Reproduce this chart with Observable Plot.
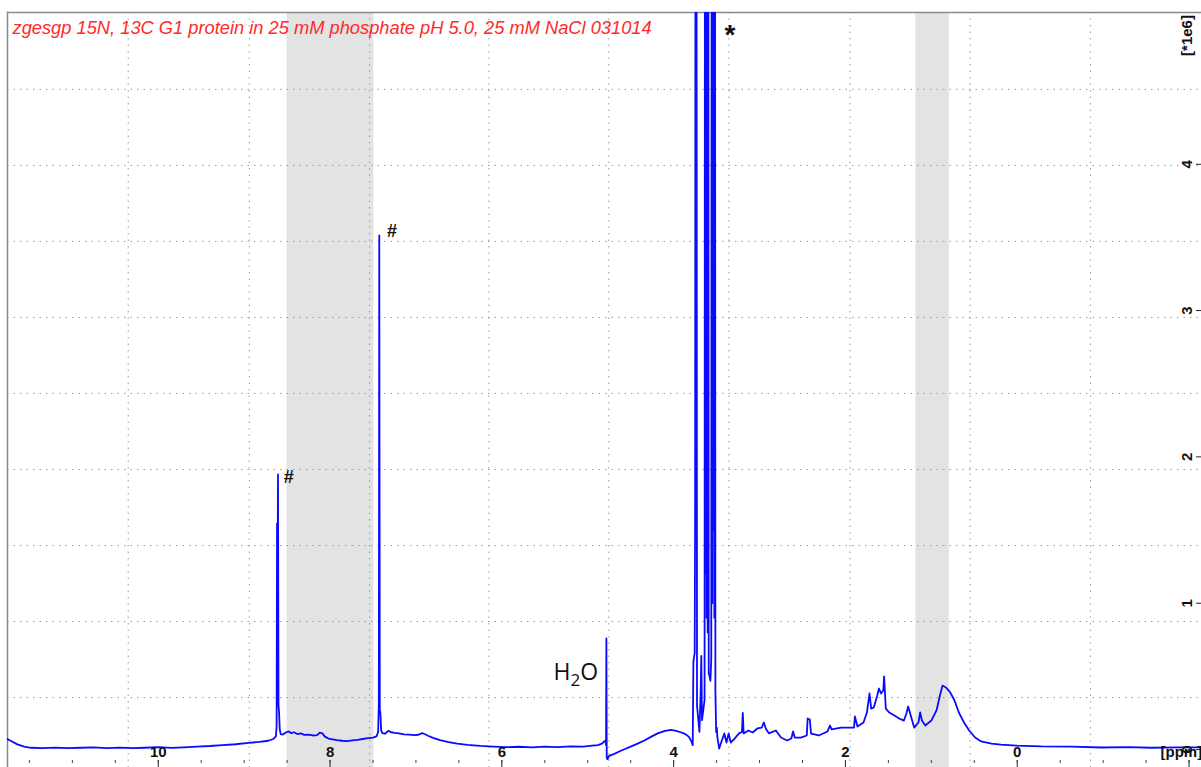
<!DOCTYPE html>
<html><head><meta charset="utf-8">
<script src="https://cdn.jsdelivr.net/npm/d3@7"></script>
<script src="https://cdn.jsdelivr.net/npm/@observablehq/plot@0.6"></script>
<style>html,body{margin:0;padding:0;background:#fff;} #chart svg{display:block}</style>
</head><body><div id="chart"></div>
<script>
const title = "zgesgp 15N, 13C G1 protein in 25 mM phosphate pH 5.0, 25 mM NaCl 031014";

// spectrum: chemical shift (ppm) and intensity (x 1e6)
const ppm = [
 11.80,11.72,11.64,11.56,11.48,11.35,11.20,11.05,10.90,10.75,10.60,10.45,10.30,10.15,10.00,9.85,9.70,9.55,9.40,9.25,9.10,8.95,8.82,8.72,8.66,8.63,
 8.622,8.617,8.612,8.606,8.600,8.594,8.586,8.575,8.55,8.51,8.48,8.45,8.42,8.38,8.34,8.30,8.25,8.20,8.15,8.12,8.09,8.06,8.02,7.97,7.92,7.86,7.80,7.74,7.68,7.62,7.56,7.50,7.46,
 7.44,7.432,7.427,7.421,7.414,7.405,7.39,7.36,7.32,7.29,7.25,7.20,7.14,7.08,7.02,6.97,6.93,6.90,6.86,6.80,6.72,6.62,6.52,6.40,6.25,6.10,5.95,5.80,5.65,5.50,5.35,5.20,5.05,4.95,4.88,
 4.83,4.81,4.795,4.787,4.783,4.779,4.77,4.755,4.73,4.69,4.64,4.58,4.50,4.42,4.34,4.26,4.18,4.10,4.03,3.97,3.92,3.88,3.85,3.82,3.79,3.778,
 3.77,3.755,3.75,3.744,3.736,3.728,3.712,3.70,3.685,3.678,3.670,3.657,3.640,3.634,3.628,3.622,3.616,3.610,3.604,3.598,3.592,3.582,3.572,
 3.562,3.556,3.550,3.544,3.538,3.532,3.526,3.520,3.514,3.505,3.498,3.490,3.470,3.440,3.410,3.385,3.360,3.335,3.29,3.24,3.205,3.195,3.185,
 3.13,3.08,3.025,2.975,2.950,2.925,2.89,2.81,2.75,2.68,2.63,2.61,2.59,2.52,2.45,2.44,2.415,2.40,2.31,2.21,2.18,2.16,2.05,1.96,1.90,1.89,1.86,
 1.79,1.75,1.72,1.70,1.67,1.63,1.61,1.585,1.56,1.55,1.53,1.49,1.43,1.375,1.32,1.29,1.27,1.25,1.20,1.15,1.13,1.11,1.07,1.00,0.94,0.90,0.87,
 0.83,0.78,0.73,0.68,0.62,0.56,0.49,0.42,0.30,0.19,0.01,-0.28,-0.63,-0.98,-1.30,-1.56,-1.90,-2.30
];
const intensity = [
 0.085,0.060,0.035,0.020,0.012,0.010,0.013,0.009,0.012,0.015,0.010,0.013,0.009,0.012,0.016,0.011,0.015,0.020,0.024,0.030,0.036,0.045,0.052,0.060,0.072,0.090,
 0.16,1.545,0.95,1.88,0.30,0.26,0.14,0.105,0.102,0.118,0.124,0.112,0.118,0.106,0.110,0.100,0.102,0.096,0.098,0.115,0.110,0.088,0.075,0.070,0.064,0.060,0.058,0.062,0.066,0.072,0.078,0.082,0.090,
 0.12,0.32,3.513,0.27,0.25,0.13,0.112,0.108,0.128,0.118,0.114,0.110,0.104,0.102,0.098,0.101,0.112,0.106,0.094,0.080,0.064,0.050,0.040,0.032,0.025,0.020,0.016,0.019,0.015,0.020,0.017,0.022,0.020,0.026,0.030,
 0.042,0.055,0.060,0.030,0.759,-0.055,-0.068,-0.045,-0.038,-0.030,-0.015,0.000,0.020,0.040,0.062,0.088,0.112,0.128,0.134,0.128,0.118,0.110,0.100,0.085,0.050,0.030,
 0.60,0.66,1.60,8,8,0.30,0.20,0.12,0.40,0.64,0.20,0.26,0.34,8,1.2,8,0.9,8,0.8,8,0.52,0.50,0.47,
 0.62,8,1.0,8,1.5,8,0.9,8,0.40,0.12,0.15,0.08,0.007,0.060,0.110,0.048,0.110,0.048,0.075,0.110,0.120,0.250,0.110,
 0.130,0.116,0.144,0.150,0.185,0.140,0.110,0.130,0.082,0.062,0.075,0.123,0.082,0.082,0.096,0.212,0.205,0.109,0.096,0.123,0.164,0.137,0.150,0.150,0.150,0.226,0.157,
 0.185,0.253,0.383,0.280,0.287,0.369,0.417,0.383,0.403,0.499,0.280,0.253,0.232,0.212,0.198,0.246,0.294,0.253,0.150,0.185,0.253,0.198,0.164,0.198,0.267,0.369,0.437,
 0.424,0.390,0.335,0.253,0.185,0.130,0.082,0.055,0.041,0.034,0.027,0.021,0.020,0.014,0.016,0.012,0.015,0.014
];

const xMajorTicks = [10, 8, 6, 4, 2, 0, -2];
const xTickLabels = [10, 8, 6, 4, 2, 0];
const xMinorTicks = [11.5, 11, 10.5, 10, 9.5, 9, 8.5, 8, 7.5, 7, 6.5, 6, 5.5, 5, 4.5, 4, 3.5, 3, 2.5, 2, 1.5, 1, 0.5, 0, -0.5, -1, -1.5, -2];
const yTicks = [0, 1, 2, 3, 4];
const xGrid = [10.35, 8.94, 7.54, 6.15, 4.755, 3.357, 1.946, 0.548, -0.851];
const yGrid = [0.355, 0.875, 1.394, 1.914, 2.434, 2.953, 3.473, 3.992, 4.512];
const bandFrom = [8.50, 1.18];
const bandTo = [7.49, 0.79];
const hashText = ["#", "#"];
const hashPpm = [8.48, 7.28];
const hashInt = [1.86, 3.54];
const starText = ["*"];
const starPpm = [3.345];
const starInt = [4.925];
const waterText = ["H2O"];
const waterPpm = [5.14];
const waterInt = [0.526];

const spectrum = ppm.map((p, i) => ({p, v: intensity[i]}));
const bands = bandFrom.map((f, i) => ({from: f, to: bandTo[i]}));

// render H2O with a lowered "2"
function subscriptRender(index, scales, values, dims, context, next) {
  const g = next(index, scales, values, dims, context);
  d3.select(g).selectAll("text").each(function() {
    const t = d3.select(this);
    const s = t.text();
    t.text(null);
    t.append("tspan").text(s[0]);
    t.append("tspan").attr("dy", 6).attr("font-size", 17).text(s[1]);
    t.append("tspan").attr("dy", -6).text(s.slice(2));
  });
  return g;
}

const chart = Plot.plot({
  width: 1201, height: 767,
  marginLeft: 7, marginRight: 0, marginTop: 12, marginBottom: 7,
  x: {domain: [11.755, -2.145], axis: null, label: null},
  y: {domain: [-0.075, 5.037], axis: null, label: null},
  style: {fontFamily: "'Liberation Sans', Arial, sans-serif", background: "#fff", overflow: "hidden"},
  marks: [
    Plot.rect(bands, {x1: "from", x2: "to", fill: "#e3e3e3", insetBottom: -7}),
    Plot.gridX(xGrid, {stroke: "#9a9a9a", strokeOpacity: 1, strokeDasharray: "1.5,5", insetBottom: -7}),
    Plot.gridY(yGrid, {stroke: "#9a9a9a", strokeOpacity: 1, strokeDasharray: "1.5,5"}),
    Plot.frame({anchor: "top", stroke: "#8a8a8a", strokeWidth: 1.5}),
    Plot.frame({anchor: "left", stroke: "#8a8a8a", strokeWidth: 1.5, insetBottom: -7}),
    Plot.line(spectrum, {x: "p", y: "v", stroke: "#0a0aff", strokeWidth: 1.8, clip: true}),
    Plot.axisX(xMajorTicks, {anchor: "bottom", tickSize: 7, tickFormat: () => "", label: null, stroke: "#222"}),
    Plot.axisX(xMinorTicks, {anchor: "bottom", tickSize: 3, tickFormat: () => "", label: null, stroke: "#444"}),
    Plot.axisX(xTickLabels, {anchor: "bottom", tickSize: 0, tickPadding: 0, dy: -8, lineAnchor: "middle", label: null,
      tickFormat: d => String(d), fontSize: 15, fontWeight: "bold", fill: "#111"}),
    Plot.axisY(yTicks, {anchor: "right", tickSize: -6, tickPadding: -8, tickRotate: -90, textAnchor: "middle", lineAnchor: "middle",
      label: null, tickFormat: d => String(d), fontSize: 15, fontWeight: "bold", fill: "#111", stroke: "#222"}),
    Plot.text(["[*1e6]"], {frameAnchor: "top-right", dx: -14, dy: 23, rotate: -90, textAnchor: "middle", lineAnchor: "middle",
      text: d => d, fontSize: 15, fontWeight: "bold", fill: "#111"}),
    Plot.text(["[ppm]"], {frameAnchor: "bottom-right", dx: -41, dy: -8, textAnchor: "start", lineAnchor: "middle",
      text: d => d, fontSize: 15, fontWeight: "bold", fill: "#111"}),
    Plot.text([title], {frameAnchor: "top-left", dx: 5, dy: 16, text: d => d, fill: "#ff2a2a", fontStyle: "italic",
      fontSize: 18.3, textAnchor: "start", lineAnchor: "middle"}),
    Plot.text(hashText, {x: (d, i) => hashPpm[i], y: (d, i) => hashInt[i], text: d => d, fontSize: 18, fontWeight: "bold", fill: "#111"}),
    Plot.text(starText, {x: (d, i) => starPpm[i], y: (d, i) => starInt[i], text: d => d, fontSize: 28, fontWeight: "bold", fill: "#111", lineAnchor: "middle", dy: 6}),
    Plot.text(waterText, {x: (d, i) => waterPpm[i], y: (d, i) => waterInt[i], text: d => d, fontSize: 23,
      fontFamily: "'Open Sans', sans-serif", fill: "#111", render: subscriptRender})
  ]
});
document.getElementById("chart").appendChild(chart);
</script>
</body></html>
